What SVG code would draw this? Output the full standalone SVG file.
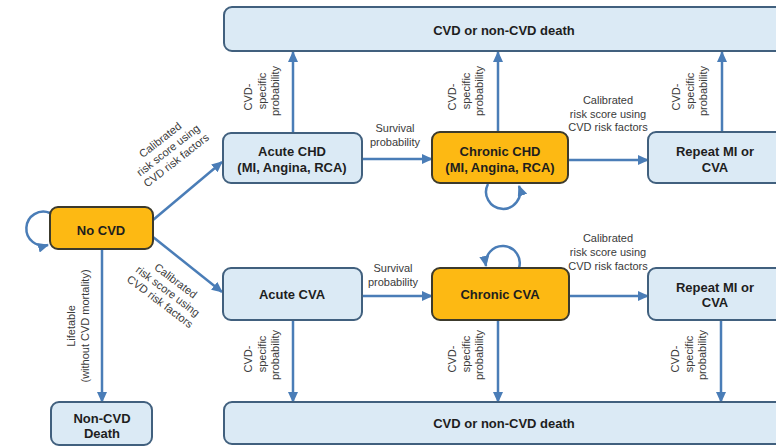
<svg xmlns="http://www.w3.org/2000/svg" width="776" height="446" viewBox="0 0 776 446">
<style>
.box{fill:#dbeaf5;stroke:#41607e;stroke-width:2}
.hot{fill:#fdb913;stroke:#3c3a2c;stroke-width:2}
.t{font-family:"Liberation Sans",Arial,sans-serif;font-weight:bold;font-size:13px;fill:#1e1e1e;text-anchor:middle}
.l{font-family:"Liberation Sans",Arial,sans-serif;font-size:11px;fill:#3a3a3a;text-anchor:middle}
.c{fill:none;stroke:#4a7db7;stroke-width:2.5}
</style>
<defs>
<marker id="ah" markerUnits="userSpaceOnUse" markerWidth="11" markerHeight="10" refX="10" refY="5" orient="auto">
<path d="M0,0 L11,5 L0,10 z" fill="#4a7db7"/>
</marker>
</defs>
<rect width="776" height="446" fill="#ffffff"/>

<g id="connectors">
<line class="c" x1="293" y1="133" x2="293" y2="52" marker-end="url(#ah)"/>
<line class="c" x1="498" y1="132" x2="498" y2="52" marker-end="url(#ah)"/>
<line class="c" x1="722" y1="132" x2="722" y2="52" marker-end="url(#ah)"/>
<line class="c" x1="362" y1="159" x2="432" y2="159" marker-end="url(#ah)"/>
<line class="c" x1="568" y1="160" x2="648" y2="160" marker-end="url(#ah)"/>
<line class="c" x1="362" y1="296" x2="432" y2="296" marker-end="url(#ah)"/>
<line class="c" x1="569" y1="296" x2="648" y2="296" marker-end="url(#ah)"/>
<line class="c" x1="293" y1="320" x2="293" y2="402" marker-end="url(#ah)"/>
<line class="c" x1="498" y1="320" x2="498" y2="402" marker-end="url(#ah)"/>
<line class="c" x1="721" y1="320" x2="721" y2="402" marker-end="url(#ah)"/>
<line class="c" x1="102" y1="249" x2="102" y2="402" marker-end="url(#ah)"/>
<line class="c" x1="153" y1="220" x2="222" y2="162" marker-end="url(#ah)"/>
<line class="c" x1="153" y1="237" x2="222" y2="292" marker-end="url(#ah)"/>
<path class="c" d="M50,213 A17,17 0 1 0 48,245" marker-end="url(#ah)"/>
<path class="c" d="M488,184 A17,17 0 1 0 519,186" marker-end="url(#ah)"/>
<path class="c" d="M519,268 A17,17 0 1 0 486,266" marker-end="url(#ah)"/>
</g>

<g id="labels">
<g transform="translate(293,0)">
<text class="l" transform="translate(-41,97) rotate(-90)">CVD-</text>
<text class="l" transform="translate(-27.5,91) rotate(-90)">specific</text>
<text class="l" transform="translate(-14,91) rotate(-90)">probability</text>
</g>
<g transform="translate(498,0)">
<text class="l" transform="translate(-42,97) rotate(-90)">CVD-</text>
<text class="l" transform="translate(-28.5,91) rotate(-90)">specific</text>
<text class="l" transform="translate(-15,91) rotate(-90)">probability</text>
</g>
<g transform="translate(722,0)">
<text class="l" transform="translate(-42,97) rotate(-90)">CVD-</text>
<text class="l" transform="translate(-28.5,91) rotate(-90)">specific</text>
<text class="l" transform="translate(-15,91) rotate(-90)">probability</text>
</g>
<g transform="translate(293,0)">
<text class="l" transform="translate(-41,359) rotate(-90)">CVD-</text>
<text class="l" transform="translate(-27.5,354) rotate(-90)">specific</text>
<text class="l" transform="translate(-14,355) rotate(-90)">probability</text>
</g>
<g transform="translate(498,0)">
<text class="l" transform="translate(-42,359) rotate(-90)">CVD-</text>
<text class="l" transform="translate(-28.5,354) rotate(-90)">specific</text>
<text class="l" transform="translate(-15,355) rotate(-90)">probability</text>
</g>
<g transform="translate(721,0)">
<text class="l" transform="translate(-42,359) rotate(-90)">CVD-</text>
<text class="l" transform="translate(-28.5,354) rotate(-90)">specific</text>
<text class="l" transform="translate(-15,355) rotate(-90)">probability</text>
</g>
<text class="l" x="395" y="132">Survival</text>
<text class="l" x="395" y="146">probability</text>
<text class="l" x="393" y="272">Survival</text>
<text class="l" x="393" y="286">probability</text>
<text class="l" x="608" y="104">Calibrated</text>
<text class="l" x="608" y="118">risk score using</text>
<text class="l" x="608" y="131">CVD risk factors</text>
<text class="l" x="608" y="242">Calibrated</text>
<text class="l" x="608" y="256">risk score using</text>
<text class="l" x="608" y="270">CVD risk factors</text>
<g transform="translate(168,150) rotate(-38)">
<text class="l" x="0" y="-9">Calibrated</text>
<text class="l" x="0" y="4">risk score using</text>
<text class="l" x="0" y="17">CVD risk factors</text>
</g>
<g transform="translate(168,291) rotate(37)">
<text class="l" x="0" y="-9">Calibrated</text>
<text class="l" x="0" y="4">risk score using</text>
<text class="l" x="0" y="17">CVD risk factors</text>
</g>
<text class="l" transform="translate(75,326) rotate(-90)">Lifetable</text>
<text class="l" transform="translate(89,326) rotate(-90)">(without CVD mortality)</text>
</g>

<g id="death-top"><rect class="box" x="224" y="7" width="570" height="44" rx="8"/><text class="t" x="504" y="34.5">CVD or non-CVD  death</text></g>
<g id="death-bottom"><rect class="box" x="224" y="402" width="570" height="42" rx="8"/><text class="t" x="504" y="428">CVD or non-CVD  death</text></g>
<g id="acute-chd"><rect class="box" x="223" y="133" width="139" height="50" rx="8"/><text class="t" x="292" y="155.5">Acute CHD</text><text class="t" x="292" y="171.5">(MI, Angina, RCA)</text></g>
<g id="chronic-chd"><rect class="hot" x="432" y="132" width="136" height="51" rx="8"/><text class="t" x="500" y="156">Chronic CHD</text><text class="t" x="500" y="171.5">(MI, Angina, RCA)</text></g>
<g id="repeat-top"><rect class="box" x="648" y="132" width="150" height="51" rx="8"/><text class="t" x="715" y="156">Repeat MI or</text><text class="t" x="715" y="171.5">CVA</text></g>
<g id="no-cvd"><rect class="hot" x="50" y="207" width="103" height="42" rx="8"/><text class="t" x="101" y="234.5">No CVD</text></g>
<g id="acute-cva"><rect class="box" x="223" y="268" width="139" height="52" rx="8"/><text class="t" x="292" y="298.5">Acute CVA</text></g>
<g id="chronic-cva"><rect class="hot" x="432" y="268" width="137" height="52" rx="8"/><text class="t" x="500" y="298.5">Chronic CVA</text></g>
<g id="repeat-bottom"><rect class="box" x="648" y="268" width="150" height="52" rx="8"/><text class="t" x="715" y="291.5">Repeat MI or</text><text class="t" x="715" y="306.5">CVA</text></g>
<g id="non-cvd-death"><rect class="box" x="51" y="402" width="101" height="43" rx="8"/><text class="t" x="102" y="422.5">Non-CVD</text><text class="t" x="102" y="437.5">Death</text></g>
</svg>
